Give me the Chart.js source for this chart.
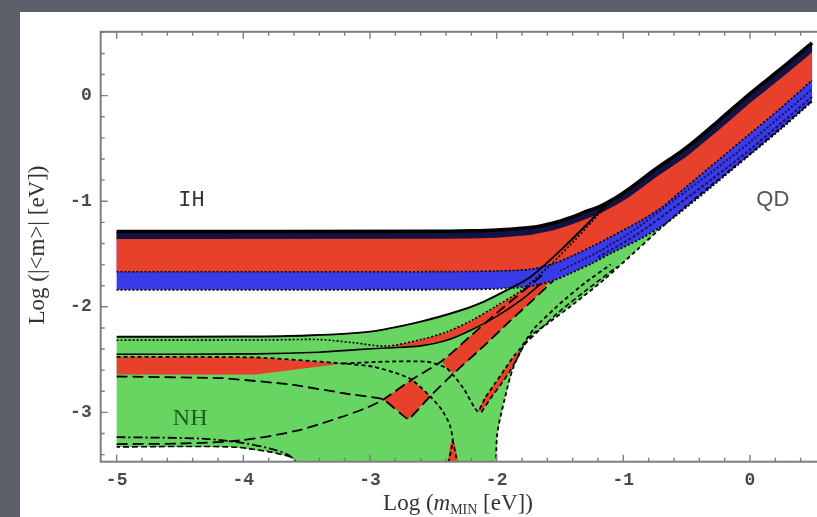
<!DOCTYPE html>
<html>
<head>
<meta charset="utf-8">
<script src="https://cdn.jsdelivr.net/npm/chart.js@4.4.1/dist/chart.umd.min.js"></script>
<style>
  html, body { margin: 0; padding: 0; }
  body { width: 817px; height: 517px; background: #5b606b; overflow: hidden; position: relative; }
  #panel { position: absolute; left: 20px; top: 12px; width: 797px; height: 505px; background: #fff; }
  #chartBox { position: absolute; left: 0; top: 0; width: 797px; height: 505px; }
</style>
</head>
<body>
<div id="panel"><div id="chartBox"><canvas id="massChart"></canvas></div></div>
<script>
// axis ranges and ticks (log10 of eV)
const xRange = [-5.126, 0.529];
const yRange = [-3.467, 0.605];
const xTicks = [-5, -4, -3, -2, -1, 0];
const yTicks = [-3, -2, -1, 0];

// inverted hierarchy band edges, [log m_min, log |<m>|]
const ihTop = [[-5, -1.287], [-2.5, -1.285], [-2.2, -1.28], [-2.0, -1.272], [-1.736, -1.249], [-1.55, -1.205],
    [-1.42, -1.156], [-1.3, -1.10], [-1.184, -1.048], [-1.05, -0.96], [-0.947, -0.877], [-0.75, -0.70],
    [-0.5, -0.49], [-0.25, -0.24], [0, 0.02], [0.25, 0.26], [0.49, 0.50]];
const ihRedTop = [[-5, -1.358], [-2.5, -1.356], [-2.2, -1.352], [-2.0, -1.345], [-1.736, -1.32], [-1.55, -1.275],
    [-1.42, -1.225], [-1.3, -1.17], [-1.184, -1.115], [-1.05, -1.03], [-0.947, -0.955], [-0.75, -0.78],
    [-0.5, -0.575], [-0.25, -0.33], [0, -0.07], [0.25, 0.17], [0.49, 0.41]];
const ihRedBottom = [[-5, -1.668], [-2.5, -1.667], [-2.2, -1.665], [-2.0, -1.66], [-1.736, -1.645], [-1.55, -1.59],
    [-1.42, -1.526], [-1.25, -1.43], [-1.105, -1.34], [-0.868, -1.188], [-0.7, -1.06], [-0.5, -0.86],
    [-0.25, -0.61], [0, -0.36], [0.25, -0.11], [0.49, 0.146]];
const ihBottom = [[-5, -1.839], [-2.5, -1.838], [-2.2, -1.835], [-2.0, -1.83], [-1.736, -1.805], [-1.55, -1.75],
    [-1.42, -1.684], [-1.25, -1.59], [-1.105, -1.498], [-0.868, -1.358], [-0.7, -1.24], [-0.576, -1.13],
    [-0.3, -0.86], [0, -0.56], [0.25, -0.31], [0.49, -0.056]];
const ihBlueMid = [[-1.5, -1.66], [-1.2, -1.48], [-0.9, -1.26], [-0.6, -0.99], [-0.3, -0.72], [0, -0.44], [0.49, 0.06]];
const ihBlueLow = [[-1.2, -1.53], [-0.9, -1.32], [-0.6, -1.06], [-0.3, -0.79], [0, -0.51], [0.49, -0.01]];

// normal hierarchy region outline
const nhTop = [[-5, -2.284], [-4, -2.282], [-3.5, -2.272], [-3.0, -2.235], [-2.6, -2.14], [-2.3, -2.04],
    [-2.1, -1.95], [-1.9, -1.83], [-1.736, -1.72], [-1.5, -1.47], [-1.263, -1.19], [-1.18, -1.08], [-1.1, -0.99]];
const nhLow = [[-2.005, -3.5], [-1.995, -3.2], [-1.94, -2.89], [-1.87, -2.58], [-1.75, -2.30], [-1.6, -2.16],
    [-1.4, -1.98], [-1.15, -1.74], [-0.9, -1.47], [-0.7, -1.25], [-0.5, -1.04], [0, -0.55], [0.49, -0.05]];
const nhFloor = [[-3.51, -3.5], [-3.63, -3.42], [-3.79, -3.374], [-4.1, -3.327], [-5, -3.327]];

// red sub-regions of NH
const nhRedTongue = [[-5, -2.474], [-3.9, -2.48], [-3.21, -2.537], [-3.9, -2.64], [-5, -2.642]];
const nhRedDiamond = [[-2.894, -2.877], [-2.67, -2.69], [-2.526, -2.847], [-2.697, -3.063]];
const nhRedUpper = [[-2.87, -2.38], [-2.6, -2.315], [-2.4, -2.245], [-2.2, -2.135], [-2.0, -1.995], [-1.8, -1.845],
    [-1.7, -1.77], [-1.72, -1.86], [-1.8, -1.925], [-2.0, -2.085], [-2.2, -2.215], [-2.4, -2.315], [-2.6, -2.365]];
const nhRedMain = [[-2.43, -2.52], [-2.3, -2.38], [-2.2, -2.27], [-2.0, -2.06], [-1.8, -1.86], [-1.62, -1.68],
    [-1.55, -1.72], [-1.7, -1.92], [-1.9, -2.14], [-2.1, -2.37], [-2.25, -2.54], [-2.34, -2.63], [-2.394, -2.583]];
const nhRedRight = [[-2.15, -2.99], [-2.09, -2.86], [-2.01, -2.72], [-1.93, -2.58], [-1.86, -2.46], [-1.815, -2.397],
    [-1.83, -2.47], [-1.89, -2.60], [-1.97, -2.74], [-2.05, -2.87], [-2.12, -2.99]];
const nhRedSliver = [[-2.39, -3.5], [-2.365, -3.3], [-2.347, -3.265], [-2.33, -3.3], [-2.30, -3.5]];

// black curves inside NH
const nhDotted = [[-5, -2.316], [-3.8, -2.314], [-3.4, -2.31], [-3.13, -2.34], [-2.87, -2.372], [-2.6, -2.31],
    [-2.4, -2.24], [-2.2, -2.13], [-2.0, -1.99], [-1.8, -1.84], [-1.6, -1.63], [-1.4, -1.39], [-1.2, -1.13], [-1.1, -1.0]];
const nhSolid2 = [[-5, -2.449], [-3.9, -2.446], [-3.4, -2.43], [-3.1, -2.405], [-2.87, -2.39], [-2.6, -2.37],
    [-2.4, -2.32], [-2.2, -2.22], [-2.0, -2.09], [-1.8, -1.93], [-1.65, -1.78]];
const nhCurveA = [[-5, -2.474], [-3.9, -2.48], [-3.21, -2.537], [-2.975, -2.567], [-2.8, -2.625], [-2.67, -2.69],
    [-2.526, -2.847], [-2.43, -2.98], [-2.37, -3.12], [-2.347, -3.265], [-2.385, -3.5]];
const nhSliverEdge = [[-2.347, -3.265], [-2.305, -3.5]];
const nhCurveE = [[-3.21, -2.537], [-2.9, -2.52], [-2.55, -2.52], [-2.394, -2.583], [-2.263, -2.77], [-2.15, -2.99],
    [-2.09, -2.86], [-2.01, -2.72], [-1.93, -2.58], [-1.86, -2.46], [-1.815, -2.397], [-1.7, -2.2], [-1.5, -1.97],
    [-1.3, -1.77], [-1.1, -1.6]];
const nhCurveF = [[-2.12, -3.0], [-2.05, -2.87], [-1.97, -2.74], [-1.89, -2.60], [-1.83, -2.47], [-1.78, -2.36],
    [-1.68, -2.24], [-1.5, -2.04], [-1.3, -1.85], [-1.05, -1.62]];
const nhCurveC = [[-5, -2.66], [-4.16, -2.676], [-3.63, -2.735], [-3.157, -2.828], [-2.894, -2.877], [-2.697, -3.063],
    [-2.526, -2.847], [-2.34, -2.63], [-2.1, -2.37], [-1.9, -2.14], [-1.7, -1.92], [-1.55, -1.75]];
const nhCurveB = [[-5, -3.30], [-4.5, -3.295], [-4.02, -3.265], [-3.575, -3.172], [-3.236, -3.048], [-3.025, -2.955],
    [-2.894, -2.877], [-2.67, -2.69], [-2.43, -2.51], [-2.2, -2.27], [-2.0, -2.06], [-1.8, -1.86], [-1.62, -1.68]];
const nhDashDot = [[-5, -3.234], [-4.3, -3.25], [-4.0, -3.29], [-3.8, -3.34], [-3.65, -3.40], [-3.55, -3.5]];

const regionLabels = [
    { text: 'IH', x: -4.41, y: -0.99, font: '22px "Liberation Mono"', color: '#333' },
    { text: 'QD', x: 0.18, y: -0.99, font: '22px "Liberation Sans"', color: '#555' },
    { text: 'NH', x: -4.42, y: -3.06, font: '24px "Liberation Serif"', color: '#1d5e1d' }
];

const GREEN = '#68d462', RED = '#e8412b', BLUE = '#3a3ae8', NAVY = '#131243';

const pts = arr => arr.map(([x, y]) => ({ x, y }));
const rev = arr => arr.slice().reverse();

function area(data, color) {
    return { data: pts(data), backgroundColor: color, borderWidth: 0, fill: 'shape', pointRadius: 0, tension: 0 };
}
function curve(data, dash, width, tension = 0.3, color = '#000') {
    return { data: pts(data), borderColor: color, backgroundColor: color, borderWidth: width, borderDash: dash,
        fill: false, pointRadius: 0, tension: tension };
}

// bottom layer first
const layers = [
    area([...nhTop, ...ihTop.filter(p => p[0] > -1.1), ...rev(nhLow), ...nhFloor], GREEN),
    area(nhRedTongue, RED),
    area(nhRedDiamond, RED),
    area(nhRedUpper, RED),
    area(nhRedMain, RED),
    area(nhRedRight, RED),
    area(nhRedSliver, RED),
    area([...ihTop, ...rev(ihBottom)], BLUE),
    area([...ihTop, ...rev(ihRedBottom)], RED),
    area([...ihTop, ...rev(ihRedTop)], NAVY),
    curve(ihRedBottom, [2, 2], 1.6),
    curve(ihBottom, [2, 2], 1.8),
    curve(ihBlueMid, [2, 2], 2, 0.3, '#14145a'),
    curve(ihBlueLow, [3, 2], 2, 0.3, '#14145a'),
    curve(nhFloor.slice(1), [6, 3], 1.6),
    curve(nhDashDot, [9, 3, 2, 3], 1.8),
    curve(nhCurveB, [11, 5], 1.8),
    curve(nhCurveC, [11, 5], 1.8, 0.1),
    curve(nhCurveA, [4, 3], 1.8, 0.2),
    curve(nhSliverEdge, [4, 3], 1.6, 0),
    curve(nhCurveE, [4, 3], 1.8, 0.2),
    curve(nhCurveF, [5, 3], 1.6),
    curve(nhLow, [4, 3], 1.8),
    curve(nhSolid2, [], 1.6),
    curve(nhDotted, [2, 2], 1.6),
    curve(nhTop, [], 2),
    curve(ihTop, [], 3.6)
];
const datasets = layers.map((d, i) => ({ ...d, order: layers.length - i }));

const frameAndText = {
    id: 'frameAndText',
    afterDatasetsDraw(chart) {
        const { ctx, chartArea: a, scales: { x, y } } = chart;
        ctx.save();
        ctx.strokeStyle = '#7e7e7e';
        ctx.lineWidth = 2;
        ctx.strokeRect(a.left, a.top, a.right - a.left + 4, a.bottom - a.top);

        // inward ticks, every 0.2
        ctx.lineWidth = 1.4;
        ctx.beginPath();
        for (let i = -30; i <= 5; i++) {
            const v = i * 0.2;
            const major = Math.abs(v - Math.round(v)) < 1e-6;
            const len = major ? 7 : 4;
            if (v > xRange[0] && v < xRange[1]) {
                const px = x.getPixelForValue(v);
                ctx.moveTo(px, a.bottom); ctx.lineTo(px, a.bottom - len);
                ctx.moveTo(px, a.top); ctx.lineTo(px, a.top + len);
            }
            if (v > yRange[0] && v < yRange[1]) {
                const py = y.getPixelForValue(v);
                ctx.moveTo(a.left, py); ctx.lineTo(a.left + len, py);
            }
        }
        ctx.stroke();

        ctx.textAlign = 'center';
        ctx.textBaseline = 'middle';
        regionLabels.forEach(l => {
            ctx.font = l.font;
            ctx.fillStyle = l.color;
            ctx.fillText(l.text, x.getPixelForValue(l.x), y.getPixelForValue(l.y));
        });

        // x axis title: Log (m_MIN [eV])
        ctx.fillStyle = '#333';
        ctx.textAlign = 'left';
        ctx.textBaseline = 'alphabetic';
        const parts = [
            { t: 'Log (', f: '23px "Liberation Serif"', dy: 0 },
            { t: 'm', f: 'italic 23px "Liberation Serif"', dy: 0 },
            { t: 'MIN', f: '14px "Liberation Serif"', dy: 4 },
            { t: ' [eV])', f: '23px "Liberation Serif"', dy: 0 }
        ];
        let w = 0;
        parts.forEach(p => { ctx.font = p.f; w += ctx.measureText(p.t).width; });
        let cx = 438 - w / 2;
        parts.forEach(p => {
            ctx.font = p.f;
            ctx.fillText(p.t, cx, 498 + p.dy);
            cx += ctx.measureText(p.t).width;
        });

        // y axis title
        ctx.save();
        ctx.translate(18, 233);
        ctx.rotate(-Math.PI / 2);
        ctx.textAlign = 'center';
        ctx.textBaseline = 'middle';
        ctx.font = '23px "Liberation Serif"';
        ctx.fillText('Log (|<m>| [eV])', 0, 0);
        ctx.restore();
        ctx.restore();
    }
};

new Chart(document.getElementById('massChart'), {
    type: 'line',
    data: { datasets: datasets },
    options: {
        responsive: true,
        maintainAspectRatio: false,
        animation: false,
        layout: { padding: { top: 12, right: 0, left: 0, bottom: 0 } },
        plugins: { legend: { display: false }, tooltip: { enabled: false } },
        scales: {
            x: {
                type: 'linear',
                min: xRange[0],
                max: xRange[1],
                afterBuildTicks: s => { s.ticks = xTicks.map(v => ({ value: v })); },
                afterFit: s => { s.height = 55.3; },
                grid: { display: false, drawTicks: false },
                border: { display: false },
                ticks: { padding: 8, color: '#4a4a4a', font: { family: 'Liberation Mono', size: 18, weight: 'bold' } }
            },
            y: {
                type: 'linear',
                min: yRange[0],
                max: yRange[1],
                afterBuildTicks: s => { s.ticks = yTicks.map(v => ({ value: v })); },
                afterFit: s => { s.width = 80.7; },
                grid: { display: false, drawTicks: false },
                border: { display: false },
                ticks: { padding: 9, color: '#4a4a4a', font: { family: 'Liberation Mono', size: 18, weight: 'bold' } }
            }
        }
    },
    plugins: [frameAndText]
});
</script>
</body>
</html>
